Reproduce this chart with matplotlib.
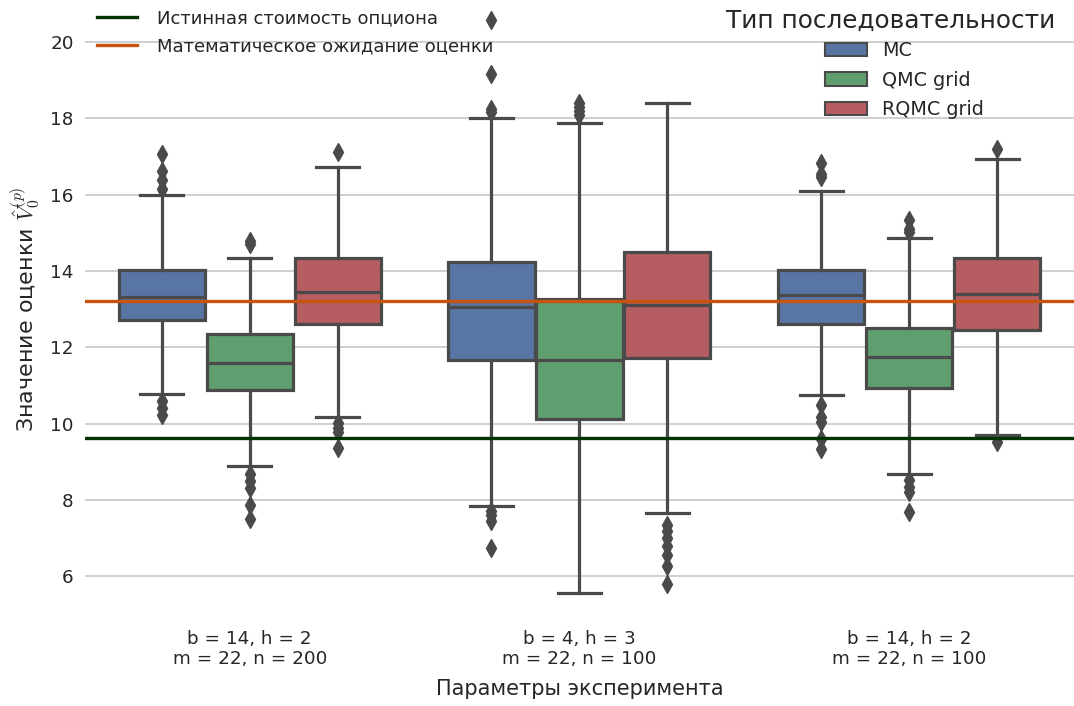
import numpy as np
import matplotlib.pyplot as plt
from matplotlib.patches import Patch
from matplotlib.lines import Line2D

plt.rcParams["mathtext.fontset"] = "cm"

groups = ["b = 14, h = 2\nm = 22, n = 200",
          "b = 4, h = 3\nm = 22, n = 100",
          "b = 14, h = 2\nm = 22, n = 100"]
kinds = ["MC", "QMC grid", "RQMC grid"]

# box statistics, [group][kind]
q1 = [[12.73, 10.89, 12.62], [11.66, 10.13, 11.71], [12.62, 10.94, 12.46]]
med = [[13.33, 11.60, 13.46], [13.06, 11.68, 13.11], [13.36, 11.75, 13.41]]
q3 = [[14.04, 12.36, 14.33], [14.23, 13.26, 14.50], [14.02, 12.50, 14.34]]
whislo = [[10.79, 8.90, 10.18], [7.84, 5.56, 7.65], [10.76, 8.69, 9.71]]
whishi = [[16.00, 14.33, 16.72], [18.00, 17.88, 18.41], [16.09, 14.86, 16.94]]
fliers = [
    [[17.06, 16.62, 16.38, 16.15, 10.60, 10.42, 10.22],
     [14.72, 14.80, 8.69, 8.50, 8.32, 7.88, 7.50],
     [17.12, 10.03, 9.90, 9.78, 9.37]],
    [[20.57, 19.17, 18.24, 18.16, 7.72, 7.62, 7.46, 6.74],
     [18.40, 18.30, 18.19, 18.08],
     [7.36, 7.20, 7.00, 6.80, 6.55, 6.27, 5.80]],
    [[16.83, 16.55, 16.46, 10.48, 10.17, 10.05, 9.60, 9.34],
     [15.33, 15.11, 15.02, 8.52, 8.34, 8.20, 7.69],
     [17.20, 9.52]],
]
true_price = 9.63
mean_estimate = 13.22

colors = ["#5875a4", "#5f9e6e", "#b55d60"]
gray = "#4a4a4a"
txt = "#262626"

fig = plt.figure(figsize=(10.74, 7.06), dpi=100)
ax = fig.add_axes([0.079, 0.124, 0.921, 0.876])

w = 0.8 / 3
for i in range(len(groups)):
    for j in range(len(kinds)):
        st = dict(med=med[i][j], q1=q1[i][j], q3=q3[i][j],
                  whislo=whislo[i][j], whishi=whishi[i][j], fliers=fliers[i][j])
        ax.bxp([st], positions=[i + (j - 1) * w], widths=w * 0.98,
               patch_artist=True, manage_ticks=False,
               boxprops=dict(facecolor=colors[j], edgecolor=gray, linewidth=2.3),
               medianprops=dict(color=gray, linewidth=2.3),
               whiskerprops=dict(color=gray, linewidth=2.3),
               capprops=dict(color=gray, linewidth=2.3),
               flierprops=dict(marker="d", markerfacecolor=gray, markeredgecolor=gray,
                               markersize=9))

ax.axhline(true_price, color="#003300", linewidth=2.4, zorder=5)
ax.axhline(mean_estimate, color="#c8550f", linewidth=2.4, zorder=5)

ax.set_xlim(-0.5, 2.5)
ax.set_ylim(4.9, 21.1)
ax.set_yticks([6, 8, 10, 12, 14, 16, 18, 20])
ax.set_xticks(range(len(groups)))
ax.set_xticklabels(groups)
ax.tick_params(length=0, labelsize=13.2, labelcolor=txt, pad=8)
ax.yaxis.grid(True, color="#cccccc", linewidth=1.3)
ax.set_axisbelow(True)
for s in ax.spines.values():
    s.set_visible(False)

ax.set_xlabel("Параметры эксперимента", fontsize=15, color=txt, labelpad=8)
ax.set_ylabel(r"Значение оценки $\hat{V}_0^{(p)}$", fontsize=16, color=txt, labelpad=6)

leg1 = ax.legend([Line2D([], [], color="#003300", linewidth=2.4),
                  Line2D([], [], color="#c8550f", linewidth=2.4)],
                 ["Истинная стоимость опциона", "Математическое ожидание оценки"],
                 loc="upper left", bbox_to_anchor=(0.0, 1.006), frameon=False,
                 fontsize=13, labelcolor=txt, handlelength=2.2, handletextpad=1.1,
                 labelspacing=0.58, borderaxespad=0.3)
ax.add_artist(leg1)

# hue legend: entries and title placed separately, as in the picture
ax.legend([Patch(facecolor=c, edgecolor=gray, linewidth=1.5) for c in colors], kinds,
          loc="upper left", bbox_to_anchor=(825 / 1074, 1 - 41 / 706),
          bbox_transform=fig.transFigure, frameon=False, fontsize=13.8,
          labelcolor=txt, handlelength=2.2, labelspacing=0.55,
          borderaxespad=0, borderpad=0)
fig.text(891 / 1074, 1 - 21 / 706, "Тип последовательности", fontsize=17.8,
         color=txt, ha="center", va="center")

fig.savefig("out.png", dpi=100)
